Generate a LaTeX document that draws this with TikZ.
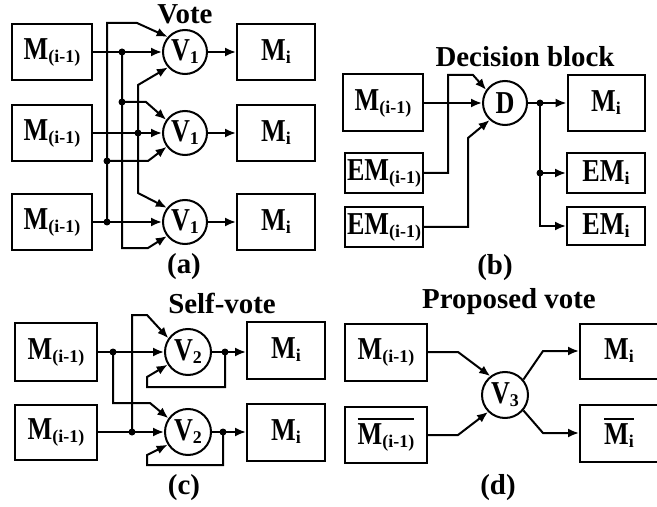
\documentclass[tikz,border=0pt]{standalone}
\usepackage{fontspec}
\setmainfont{Liberation Serif}
\newfontfamily\tallserif[FakeStretch=0.82]{Liberation Serif}
\usetikzlibrary{arrows.meta, positioning, calc}
\newcommand{\lowsub}[1]{\raisebox{-3bp}{\rmfamily\fontsize{18}{18}\selectfont #1}}
\newcommand{\notbox}[1]{\vbox{\hrule height 1.8bp\kern 4bp\hbox{#1}}}

\begin{document}
\begin{tikzpicture}[x=1bp, y=-1bp, >={Latex[length=11bp,width=9bp]}, line width=2bp,
  blk/.style={draw, minimum width=80bp, minimum height=56bp, inner sep=0pt,
    font=\tallserif\bfseries\fontsize{32}{32}\selectfont},
  vtr/.style={draw, circle, minimum size=44bp, inner sep=0pt,
    font=\tallserif\bfseries\fontsize{32}{32}\selectfont},
  ttl/.style={font=\bfseries\fontsize{29}{29}\selectfont},
  jdot/.style={circle, fill, inner sep=0pt, minimum size=7bp}]
  \useasboundingbox (0,0) rectangle (657,507);

  % (a) vote
  \node[blk] (a-in1) at (52,52) {M\lowsub{(i-1)}};
  \node[blk] (a-in2) at (52,133) {M\lowsub{(i-1)}};
  \node[blk] (a-in3) at (52,222) {M\lowsub{(i-1)}};
  \node[vtr] (va1) at (185,52) {V\lowsub{1}};
  \node[vtr] (va2) at (185,133) {V\lowsub{1}};
  \node[vtr] (va3) at (185,222) {V\lowsub{1}};
  \node[blk, minimum width=78bp] (a-out1) at (276,52) {M\lowsub{i}};
  \node[blk, minimum width=78bp] (a-out2) at (276,133) {M\lowsub{i}};
  \node[blk, minimum width=78bp] (a-out3) at (276,222) {M\lowsub{i}};
  \node[jdot] (j1) at (122,52) {};
  \node[jdot] (j1b) at (122,102) {};
  \node[jdot] (j2) at (138,133) {};
  \node[jdot] (j3) at (107,222) {};
  \node[jdot] (j3b) at (107,161) {};
  \draw[->] (a-in1) -- (va1);
  \draw[->] (a-in2) -- (va2);
  \draw[->] (a-in3) -- (va3);
  \draw[->] (j1.center) -- (122,248) -- (148,248) -- (va3.218);
  \draw[->] (j1b.center) -- (146,102) -- (va2.145);
  \draw[<->] (va1.222) -- (138,85) -- (138,193) -- (va3.142);
  \draw[->] (j3.center) -- (107,23) -- (137,23) -- (va1.139);
  \draw[->] (j3b.center) -- (148,161) -- (va2.217);
  \draw[->] (va1) -- (a-out1);
  \draw[->] (va2) -- (a-out2);
  \draw[->] (va3) -- (a-out3);
  \node[ttl] (vote) at (185,14) {Vote};
  \node[ttl] (cap-a) at (184,267) {(a)};

  % (b) decision block
  \node[blk, minimum height=57bp] (b-in) at (383,103) {M\lowsub{(i-1)}};
  \node[vtr] (vd) at (505,103) {D};
  \node[blk, minimum width=78bp, minimum height=40bp] (b-em1) at (384,173) {EM\lowsub{(i-1)}};
  \node[blk, minimum width=78bp, minimum height=40bp] (b-em2) at (384,227) {EM\lowsub{(i-1)}};
  \node[blk, minimum width=77bp] (b-out) at (606,103) {M\lowsub{i}};
  \node[blk, minimum width=78bp, minimum height=40bp] (b-eo1) at (606,173) {EM\lowsub{i}};
  \node[blk, minimum width=78bp, minimum height=38bp] (b-eo2) at (606,226) {EM\lowsub{i}};
  \node[jdot] (jd1) at (540,103) {};
  \node[jdot] (jd2) at (540,173) {};
  \draw[->] (b-in) -- (vd);
  \draw[->] (b-em1.east) -- (448,173) -- (448,75) -- (473,75) -- (vd.145);
  \draw[->] (b-em2.east) -- (468,227) -- (468,138) -- (vd.228);
  \draw[->] (vd) -- (b-out);
  \draw[->] (jd1.center) |- (b-eo2.west);
  \draw[->] (jd2.center) -- (b-eo1.west);
  \node[ttl] (dec) at (525,57) {Decision block};
  \node[ttl] (cap-b) at (495,268) {(b)};

  % (c) self-vote
  \node[blk, minimum width=82bp, minimum height=58bp] (c-in1) at (56,352) {M\lowsub{(i-1)}};
  \node[blk, minimum width=82bp, minimum height=55bp] (c-in2) at (56,432) {M\lowsub{(i-1)}};
  \node[vtr, minimum size=46bp] (vc1) at (188,352) {V\lowsub{2}};
  \node[vtr, minimum size=46bp] (vc2) at (188,432) {V\lowsub{2}};
  \node[blk, minimum width=78bp, minimum height=57bp] (c-out1) at (286,350) {M\lowsub{i}};
  \node[blk, minimum width=78bp, minimum height=57bp] (c-out2) at (286,432) {M\lowsub{i}};
  \node[jdot] (jc-a) at (113,352) {};
  \node[jdot] (jc-b) at (132,432) {};
  \node[jdot] (jc-c) at (225,352) {};
  \node[jdot] (jc-d) at (223,432) {};
  \draw[->] (c-in1) -- (vc1);
  \draw[->] (c-in2) -- (vc2);
  \draw[->] (jc-a.center) -- (113,403) -- (150,403) -- (vc2.145);
  \draw[->] (jc-b.center) -- (132,315) -- (147,315) -- (vc1.145);
  \draw[->] (vc1) -- (c-out1.west |- vc1);
  \draw[->] (vc2) -- (c-out2);
  \draw[->] (jc-c.center) -- (225,387) -- (147,387) -- (147,377) -- (vc1.212);
  \draw[->] (jc-d.center) -- (223,465) -- (147,465) -- (147,455) -- (vc2.212);
  \node[ttl] (self) at (222,303) {Self-vote};
  \node[ttl] (cap-c) at (184,488) {(c)};

  % (d) proposed vote
  \node[blk, minimum width=82bp, minimum height=57bp] (d-in1) at (386,352) {M\lowsub{(i-1)}};
  \node[blk, minimum width=82bp, minimum height=56bp] (d-in2) at (386,435) {\notbox{M\lowsub{(i-1)}}};
  \node[vtr, minimum size=46bp] (vd3) at (505,395) {V\lowsub{3}};
  \node[blk, minimum width=78bp, minimum height=55bp] (d-out1) at (619,351) {M\lowsub{i}};
  \node[blk, minimum width=78bp, minimum height=57bp] (d-out2) at (619,433) {\notbox{M\lowsub{i}}};
  \draw[->] (d-in1.east) -- (458,352) -- (vd3.128);
  \draw[->] (d-in2.east) -- (458,435) -- (vd3.225);
  \draw[->] (vd3.40) -- (543,351) -- (d-out1.west);
  \draw[->] (vd3.-40) -- (543,433) -- (d-out2.west);
  \node[ttl] (prop) at (509,302) {Proposed vote};
  \node[ttl] (cap-d) at (498,488) {(d)};
\end{tikzpicture}
\end{document}
